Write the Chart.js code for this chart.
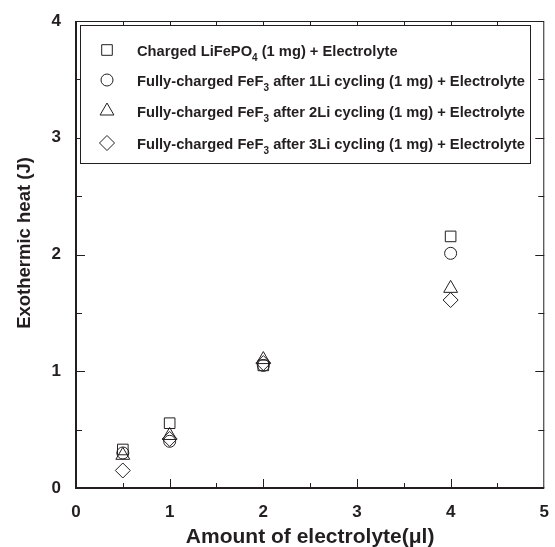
<!DOCTYPE html>
<html>
<head>
<meta charset="utf-8">
<script src="https://cdn.jsdelivr.net/npm/chart.js@4/dist/chart.umd.min.js"></script>
<style>
  html, body { margin: 0; padding: 0; background: #fff; }
  #wrap { width: 555px; height: 547px; }
</style>
</head>
<body>
<div id="wrap"><canvas id="heat"></canvas></div>
<script>
// data
const xValues = [0.5, 1, 2, 4];
const lifepo4 = [0.33, 0.555, 1.05, 2.155];
const fef3Li1 = [0.30, 0.40, 1.05, 2.01];
const fef3Li2 = [0.28, 0.45, 1.10, 1.71];
const fef3Li3 = [0.15, 0.42, 1.07, 1.61];

const xTicks = [0, 1, 2, 3, 4, 5];
const yTicks = [0, 1, 2, 3, 4];

const xTitle = 'Amount of electrolyte(\u03bcl)';
const yTitle = 'Exothermic heat (J)';

// "_" marks a subscript character
const seriesNames = [
  'Charged LiFePO_4 (1 mg) + Electrolyte',
  'Fully-charged FeF_3 after 1Li cycling (1 mg) + Electrolyte',
  'Fully-charged FeF_3 after 2Li cycling (1 mg) + Electrolyte',
  'Fully-charged FeF_3 after 3Li cycling (1 mg) + Electrolyte'
];
const markers = ['rect', 'circle', 'triangle', 'rectRot'];
const markerSizes = [7.5, 6, 8, 7.5];

const ink = '#231f20';
const FONT = '"Liberation Sans", Arial, sans-serif';

function toPoints(ys) {
  return xValues.map((x, i) => ({ x: x, y: ys[i] }));
}

const allSeries = [lifepo4, fef3Li1, fef3Li2, fef3Li3];

// frame, inward ticks, axis titles and the boxed legend
const framePlugin = {
  id: 'frame',
  afterDraw(chart) {
    const ctx = chart.ctx;
    const a = chart.chartArea;
    const xs = chart.scales.x, ys = chart.scales.y;
    ctx.save();
    ctx.strokeStyle = ink;
    ctx.lineWidth = 1;
    ctx.strokeRect(a.left + 0.5, a.top + 0.5, a.right - a.left - 1, a.bottom - a.top - 1);
    ctx.lineWidth = 2;
    ctx.beginPath();
    ctx.moveTo(a.left, a.top);
    ctx.lineTo(a.left, a.bottom);
    ctx.lineTo(a.right, a.bottom);
    ctx.stroke();

    ctx.lineWidth = 1;
    ctx.beginPath();
    for (let v = 0.5; v < 5; v += 0.5) {
      const px = Math.round(xs.getPixelForValue(v)) + 0.5;
      const len = (v % 1 === 0) ? 9 : 5;
      ctx.moveTo(px, a.bottom); ctx.lineTo(px, a.bottom - len);
      ctx.moveTo(px, a.top); ctx.lineTo(px, a.top + len);
    }
    for (let v = 0.5; v < 4; v += 0.5) {
      const py = Math.round(ys.getPixelForValue(v)) + 0.5;
      const len = (v % 1 === 0) ? 9 : 6;
      ctx.moveTo(a.left, py); ctx.lineTo(a.left + len, py);
      ctx.moveTo(a.right, py); ctx.lineTo(a.right - len, py);
    }
    ctx.stroke();

    // axis titles
    ctx.fillStyle = ink;
    ctx.textAlign = 'center';
    ctx.textBaseline = 'alphabetic';
    ctx.font = 'bold 21px ' + FONT;
    ctx.fillText(xTitle, (a.left + a.right) / 2, 543);
    ctx.save();
    ctx.translate(30, 243);
    ctx.rotate(-Math.PI / 2);
    ctx.font = 'bold 18.5px ' + FONT;
    ctx.fillText(yTitle, 0, 0);
    ctx.restore();

    // legend box
    const bx = 80, by = 25, bw = 450, bh = 138;
    ctx.fillStyle = '#fff';
    ctx.fillRect(bx, by, bw, bh);
    ctx.strokeRect(bx + 0.5, by + 0.5, bw, bh);

    const rows = [52, 82, 113, 145];
    seriesNames.forEach((name, i) => {
      drawMarker(ctx, markers[i], 107, rows[i] - 2, markerSizes[i]);
      drawSubText(ctx, name, 137, rows[i]);
    });
    ctx.restore();
  }
};

function drawMarker(ctx, style, x, y, r) {
  ctx.save();
  ctx.strokeStyle = ink;
  ctx.lineWidth = 1;
  ctx.beginPath();
  if (style === 'rect') {
    const s = r * Math.SQRT1_2;
    ctx.rect(x - s, y - s, 2 * s, 2 * s);
  } else if (style === 'circle') {
    ctx.arc(x, y, r, 0, Math.PI * 2);
  } else if (style === 'triangle') {
    ctx.moveTo(x, y - r);
    ctx.lineTo(x + r * Math.sin(Math.PI / 3), y + r * 0.5);
    ctx.lineTo(x - r * Math.sin(Math.PI / 3), y + r * 0.5);
    ctx.closePath();
  } else {
    ctx.moveTo(x, y - r); ctx.lineTo(x + r, y);
    ctx.lineTo(x, y + r); ctx.lineTo(x - r, y);
    ctx.closePath();
  }
  ctx.stroke();
  ctx.restore();
}

function drawSubText(ctx, text, x, y) {
  const parts = text.split('_');
  ctx.fillStyle = ink;
  ctx.textBaseline = 'middle';
  ctx.textAlign = 'left';
  let cx = x;
  parts.forEach((p, i) => {
    let main = p;
    if (i > 0) {
      const sub = p.charAt(0);
      main = p.slice(1);
      ctx.font = 'bold 10px ' + FONT;
      ctx.fillText(sub, cx, y + 6);
      cx += ctx.measureText(sub).width;
    }
    ctx.font = 'bold 14.7px ' + FONT;
    ctx.fillText(main, cx, y);
    cx += ctx.measureText(main).width;
  });
}

const tickFont = { family: FONT, size: 17, weight: 'bold' };

new Chart(document.getElementById('heat'), {
  type: 'scatter',
  data: {
    datasets: allSeries.map((ys, i) => ({
      label: seriesNames[i],
      data: toPoints(ys),
      pointStyle: markers[i],
      pointRadius: markerSizes[i],
      pointHoverRadius: markerSizes[i],
      borderColor: ink,
      backgroundColor: 'rgba(0,0,0,0)',
      borderWidth: 1
    }))
  },
  options: {
    responsive: true,
    maintainAspectRatio: false,
    animation: false,
    layout: { padding: { top: 21, right: 6, left: 0, bottom: 0 } },
    plugins: {
      legend: { display: false },
      tooltip: { enabled: false }
    },
    scales: {
      x: {
        type: 'linear',
        min: 0, max: 5,
        afterBuildTicks: (s) => { s.ticks = xTicks.map(v => ({ value: v })); },
        afterFit: (s) => { s.height = 59; },
        grid: { display: false, tickLength: 8 },
        border: { display: false },
        ticks: { color: ink, font: tickFont, padding: 6, maxRotation: 0 }
      },
      y: {
        type: 'linear',
        min: 0, max: 4,
        afterBuildTicks: (s) => { s.ticks = yTicks.map(v => ({ value: v })); },
        afterFit: (s) => { s.width = 76; },
        grid: { display: false, tickLength: 8 },
        border: { display: false },
        ticks: { color: ink, font: tickFont, padding: 7 }
      }
    }
  },
  plugins: [framePlugin]
});
</script>
</body>
</html>
